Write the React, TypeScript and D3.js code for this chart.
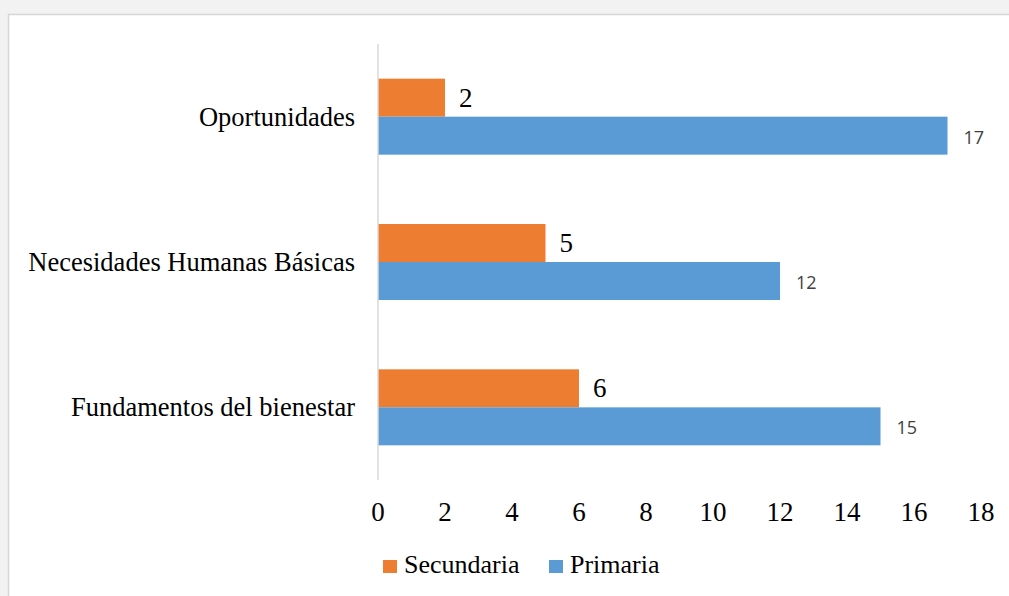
import React from "react";
import * as d3 from "d3";

const categories = ["Oportunidades", "Necesidades Humanas Básicas", "Fundamentos del bienestar"];
const series = ["Secundaria", "Primaria"];
const secundaria = [2, 5, 6];
const primaria = [17, 12, 15];
const xTicks = [0, 2, 4, 6, 8, 10, 12, 14, 16, 18];
const colors = ["#ED7D31", "#5B9BD5"];

const W = 1009;
const H = 596;
const serif = "'Liberation Serif', 'Times New Roman', serif";
const sans = "'Open Sans', 'Noto Sans', sans-serif";

export default function App() {
  const x = d3.scaleLinear().domain([0, 18]).range([378, 981]);
  const y = d3.scaleBand<string>().domain(categories).range([44, 480]).paddingInner(0).paddingOuter(0);
  const barH = 38;
  const values = [secundaria, primaria];
  const legendX = [383, 549];

  return (
    <svg width={W} height={H} style={{ position: "absolute", left: 0, top: 0, display: "block" }}>
      <rect x={0} y={0} width={W} height={H} fill="#f2f2f2" />
      <rect x={8.5} y={14.5} width={W + 10} height={H + 10} fill="#ffffff" stroke="#d6d6d6" strokeWidth={1.5} />
      {categories.map((c, i) => {
        const cy = (y(c) as number) + y.bandwidth() / 2;
        return (
          <g key={c}>
            <text x={355} y={cy} textAnchor="end" dominantBaseline="central" fontFamily={serif} fontSize={26.5} fill="#000">
              {c}
            </text>
            {values.map((vals, s) => {
              const top = cy - barH + s * barH;
              const v = vals[i];
              return (
                <g key={s}>
                  <rect x={x(0)} y={top} width={x(v) - x(0)} height={barH} fill={colors[s]} />
                  {s === 0 ? (
                    <text x={x(v) + 14} y={top + barH / 2} dominantBaseline="central" fontFamily={serif} fontSize={27} fill="#000">
                      {v}
                    </text>
                  ) : (
                    <text x={x(v) + 16} y={top + barH / 2 + 1} dominantBaseline="central" fontFamily={sans} fontSize={18} fill="#404040">
                      {v}
                    </text>
                  )}
                </g>
              );
            })}
          </g>
        );
      })}
      <line x1={x(0)} x2={x(0)} y1={44} y2={480} stroke="#d9d9d9" strokeWidth={1.5} />
      {xTicks.map((t) => (
        <text key={t} x={x(t)} y={512} textAnchor="middle" dominantBaseline="central" fontFamily={serif} fontSize={27} fill="#000">
          {t}
        </text>
      ))}
      {series.map((s, i) => {
        const lx = legendX[i];
        return (
          <g key={s}>
            <rect x={lx} y={560} width={14} height={13} fill={colors[i]} />
            <text x={lx + 21} y={573} fontFamily={serif} fontSize={26} fill="#000">
              {s}
            </text>
          </g>
        );
      })}
    </svg>
  );
}
